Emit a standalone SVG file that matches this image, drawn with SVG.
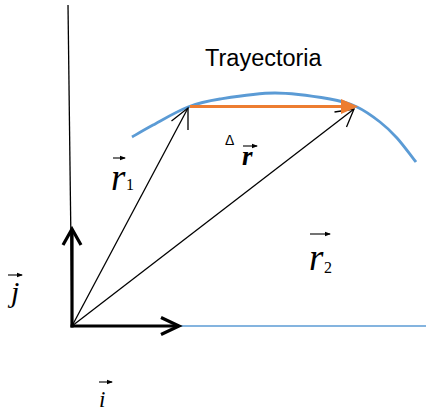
<svg xmlns="http://www.w3.org/2000/svg" width="426" height="412" viewBox="0 0 426 412">
<defs>
<style>
.thin{stroke:#000;stroke-width:1.3;fill:none}
.thick{stroke:#000;stroke-width:3.2;fill:none;stroke-linecap:butt;stroke-linejoin:miter}
.blue{stroke:#5B9BD5;fill:none}
.ov{stroke:#000;stroke-width:1.1;fill:none}
.sans{font-family:'Liberation Sans',Arial,sans-serif;fill:#000}
</style>
<marker id="sm" markerWidth="6" markerHeight="6" refX="5" refY="3" orient="auto" markerUnits="userSpaceOnUse">
<path d="M0,0.8 L6,3 L0,5.2 Z" fill="#000"/>
</marker>
</defs>

<g id="axes">
<line class="thin" x1="68" y1="5" x2="72" y2="326"/>
<line class="blue" stroke-width="1.5" x1="180" y1="326" x2="426" y2="326"/>
</g>

<g id="trajectory">
<path class="blue" stroke-width="2.8" d="M132,137 C135.5,135 143.7,130 153,125 C162.3,120 176.8,111.3 188,107 C199.2,102.7 205.5,101.3 220,99 C234.5,96.7 256.7,93 275,93 C293.3,93 316.3,96.7 330,99 C343.7,101.3 348.7,103.2 357,107 C365.3,110.8 373.3,116.8 380,122 C386.7,127.2 391,131.3 397,138 C403,144.7 412.8,158 416,162"/>
<text class="sans" x="205" y="66" font-size="23.5">Trayectoria</text>
</g>

<g id="connectors">
<g id="vec-j">
<line class="thick" x1="72" y1="327.5" x2="72" y2="229"/>
<polyline class="thick" points="63,245 72,229 81,245"/>
</g>
<g id="vec-i">
<line class="thick" x1="70.5" y1="326" x2="179" y2="326"/>
<polyline class="thick" points="161,317.5 179,326 161,334.5"/>
</g>
<g id="vec-r1">
<line class="thin" x1="72" y1="326" x2="188" y2="108"/>
<polyline class="thin" points="171.5,121 188,108 188,130"/>
</g>
<g id="vec-r2">
<line class="thin" x1="72" y1="326" x2="354" y2="109"/>
<polyline class="thin" points="334.5,112 354,109 346.5,127"/>
</g>
<g id="delta-r">
<line stroke="#ED7D31" stroke-width="3" x1="190" y1="106.5" x2="344" y2="106.5"/>
<polygon fill="#ED7D31" points="341,99 358,106.5 341,114"/>
</g>
</g>

<g id="label-r1">
<line class="ov" x1="113" y1="158" x2="125" y2="158" marker-end="url(#sm)"/>
<text x="111" y="190" font-family="Liberation Serif, Times New Roman, serif" font-style="italic" font-size="37" fill="#000">r</text>
<text x="126" y="190" font-family="Liberation Serif, Times New Roman, serif" font-size="16" fill="#000">1</text>
</g>

<g id="label-dr">
<text class="sans" x="225" y="145" font-size="14">Δ</text>
<line class="ov" x1="243" y1="146" x2="257" y2="146" marker-end="url(#sm)"/>
<text x="242" y="165" font-family="Liberation Serif, Times New Roman, serif" font-style="italic" font-weight="bold" font-size="27" fill="#000">r</text>
</g>

<g id="label-r2">
<line class="ov" x1="310" y1="234" x2="330" y2="234" marker-end="url(#sm)"/>
<text x="309" y="270" font-family="Liberation Serif, Times New Roman, serif" font-style="italic" font-size="37" fill="#000">r</text>
<text x="324" y="273" font-family="Liberation Serif, Times New Roman, serif" font-size="16" fill="#000">2</text>
</g>

<g id="label-j">
<line class="ov" x1="8" y1="275" x2="22" y2="275" marker-end="url(#sm)"/>
<text x="11" y="302" font-family="Liberation Serif, Times New Roman, serif" font-style="italic" font-size="30" fill="#000">j</text>
</g>

<g id="label-i">
<line class="ov" x1="99" y1="382" x2="112" y2="382" marker-end="url(#sm)"/>
<text x="99" y="407" font-family="Liberation Serif, Times New Roman, serif" font-style="italic" font-size="23" fill="#000">i</text>
</g>
</svg>
